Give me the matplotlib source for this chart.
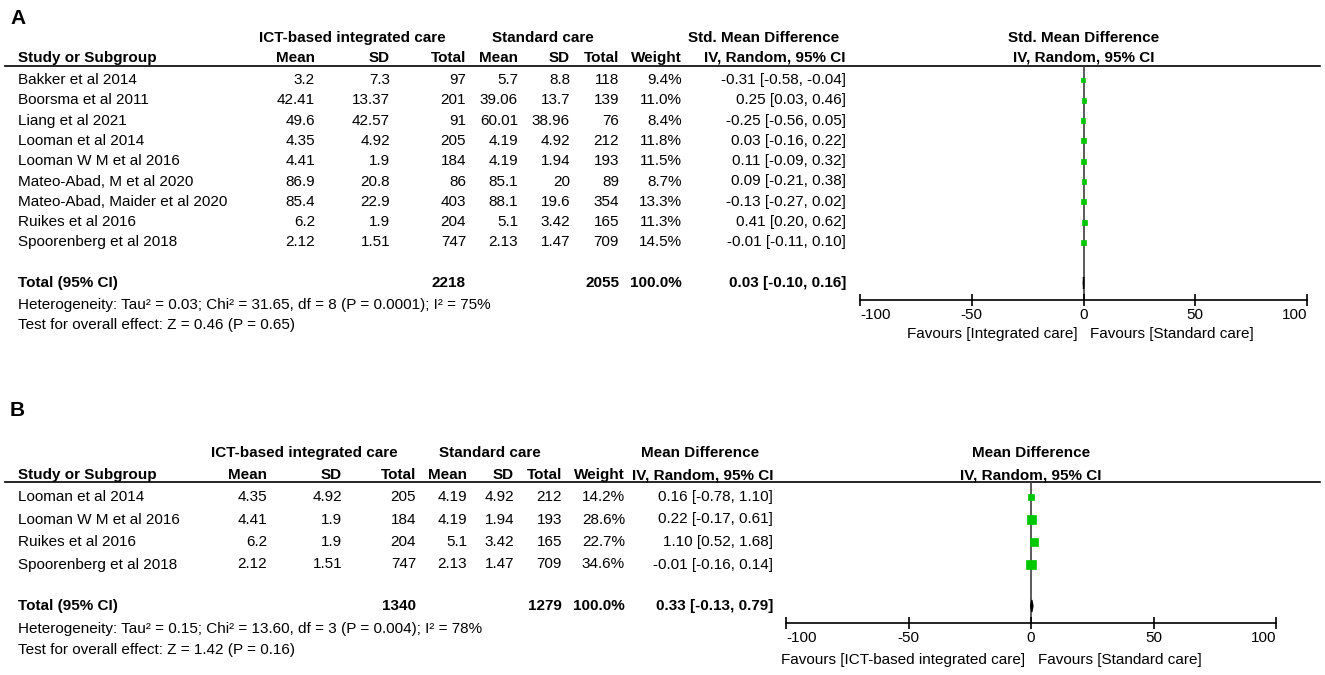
"""Forest plots (A: SMD, B: MD) for ICT-based integrated care vs standard care."""
import matplotlib.pyplot as plt
import numpy as np

plt.rcParams["font.family"] = ["Liberation Sans", "DejaVu Sans"]

W, H = 1325, 675
FS = 11
GREEN = "#00c800"

# ---- Panel A data ----
studies_a = [
    "Bakker et al 2014", "Boorsma et al 2011", "Liang et al 2021",
    "Looman et al 2014", "Looman W M et al 2016", "Mateo-Abad, M et al 2020",
    "Mateo-Abad, Maider et al 2020", "Ruikes et al 2016", "Spoorenberg et al 2018",
]
mean1_a = [3.2, 42.41, 49.6, 4.35, 4.41, 86.9, 85.4, 6.2, 2.12]
sd1_a = [7.3, 13.37, 42.57, 4.92, 1.9, 20.8, 22.9, 1.9, 1.51]
n1_a = [97, 201, 91, 205, 184, 86, 403, 204, 747]
mean2_a = [5.7, 39.06, 60.01, 4.19, 4.19, 85.1, 88.1, 5.1, 2.13]
sd2_a = [8.8, 13.7, 38.96, 4.92, 1.94, 20, 19.6, 3.42, 1.47]
n2_a = [118, 139, 76, 212, 193, 89, 354, 165, 709]
weight_a = [9.4, 11.0, 8.4, 11.8, 11.5, 8.7, 13.3, 11.3, 14.5]
est_a = [-0.31, 0.25, -0.25, 0.03, 0.11, 0.09, -0.13, 0.41, -0.01]
lo_a = [-0.58, 0.03, -0.56, -0.16, -0.09, -0.21, -0.27, 0.20, -0.11]
hi_a = [-0.04, 0.46, 0.05, 0.22, 0.32, 0.38, 0.02, 0.62, 0.10]
totals_a = [2218, 2055]
pooled_a = [0.03, -0.10, 0.16]
het_a = "Heterogeneity: Tau\u00b2 = 0.03; Chi\u00b2 = 31.65, df = 8 (P = 0.0001); I\u00b2 = 75%"
test_a = "Test for overall effect: Z = 0.46 (P = 0.65)"

# ---- Panel B data ----
studies_b = ["Looman et al 2014", "Looman W M et al 2016", "Ruikes et al 2016",
             "Spoorenberg et al 2018"]
mean1_b = [4.35, 4.41, 6.2, 2.12]
sd1_b = [4.92, 1.9, 1.9, 1.51]
n1_b = [205, 184, 204, 747]
mean2_b = [4.19, 4.19, 5.1, 2.13]
sd2_b = [4.92, 1.94, 3.42, 1.47]
n2_b = [212, 193, 165, 709]
weight_b = [14.2, 28.6, 22.7, 34.6]
est_b = [0.16, 0.22, 1.10, -0.01]
lo_b = [-0.78, -0.17, 0.52, -0.16]
hi_b = [1.10, 0.61, 1.68, 0.14]
totals_b = [1340, 1279]
pooled_b = [0.33, -0.13, 0.79]
het_b = "Heterogeneity: Tau\u00b2 = 0.15; Chi\u00b2 = 13.60, df = 3 (P = 0.004); I\u00b2 = 78%"
test_b = "Test for overall effect: Z = 1.42 (P = 0.16)"

ticks = [-100, -50, 0, 50, 100]

# layout in figure pixels (y from top)
LAY_A = dict(label="A", label_y=18, h1=38, h2=58, line=66, row0=80, step=20.3,
             total=283, het=305, test=325,
             cols=[315, 390, 466, 518, 570, 619, 682, 846],
             grp=[352, 543, 764], x0=860, x1=1307, axis=300, fav=334,
             effect="Std. Mean Difference", sq=1.45,
             fav_l="Favours [Integrated care]", fav_r="Favours [Standard care]")
LAY_B = dict(label="B", label_y=410, h1=453, h2=475, line=482, row0=497, step=22.5,
             total=606, het=629, test=650,
             cols=[267, 342, 416, 467, 514, 562, 625, 773],
             grp=[304, 490, 700], x0=786, x1=1276, axis=623, fav=660,
             effect="Mean Difference", sq=1.6,
             fav_l="Favours [ICT-based integrated care]", fav_r="Favours [Standard care]")


def g(v):
    return f"{v:g}"


def ci(e, lo, hi):
    return f"{e:.2f} [{lo:.2f}, {hi:.2f}]"


def draw_panel(fig, ov, L, studies, m1, s1, n1, m2, s2, n2, wt, est, lo, hi,
               totals, pooled, het, test):
    ov.text(10, L["label_y"], L["label"], fontsize=15, fontweight="bold", va="center")
    # group headers
    for x, t in zip(L["grp"], ["ICT-based integrated care", "Standard care", L["effect"]]):
        ov.text(x, L["h1"], t, ha="center", va="center", fontsize=FS, fontweight="bold")
    heads = ["Mean", "SD", "Total", "Mean", "SD", "Total", "Weight", "IV, Random, 95% CI"]
    ov.text(18, L["h2"], "Study or Subgroup", va="center", fontsize=FS, fontweight="bold")
    for x, t in zip(L["cols"], heads):
        ov.text(x, L["h2"], t, ha="right", va="center", fontsize=FS, fontweight="bold")
    xc = (L["x0"] + L["x1"]) / 2
    ov.text(xc, L["h1"], L["effect"], ha="center", va="center", fontsize=FS, fontweight="bold")
    ov.text(xc, L["h2"], "IV, Random, 95% CI", ha="center", va="center", fontsize=FS,
            fontweight="bold")
    ov.plot([5, 1320], [L["line"], L["line"]], color="black", lw=1.2)

    ys = L["row0"] + L["step"] * np.arange(len(studies))
    for i, y in enumerate(ys):
        ov.text(18, y, studies[i], va="center", fontsize=FS)
        vals = [g(m1[i]), g(s1[i]), str(n1[i]), g(m2[i]), g(s2[i]), str(n2[i]),
                f"{wt[i]:.1f}%", ci(est[i], lo[i], hi[i])]
        for x, t in zip(L["cols"], vals):
            ov.text(x, y, t, ha="right", va="center", fontsize=FS)

    ty = L["total"]
    ov.text(18, ty, "Total (95% CI)", va="center", fontsize=FS, fontweight="bold")
    for x, t in zip([L["cols"][2], L["cols"][5], L["cols"][6], L["cols"][7]],
                    [str(totals[0]), str(totals[1]), "100.0%", ci(*pooled)]):
        ov.text(x, ty, t, ha="right", va="center", fontsize=FS, fontweight="bold")
    ov.text(18, L["het"], het, va="center", fontsize=FS)
    ov.text(18, L["test"], test, va="center", fontsize=FS)

    # forest axis
    fa = fig.add_axes([L["x0"] / W, 1 - L["axis"] / H, (L["x1"] - L["x0"]) / W,
                       (L["axis"] - L["line"]) / H])
    fa.patch.set_alpha(0)
    fa.set_xlim(-100, 100)
    fa.set_ylim(L["axis"], L["line"])
    for s in ["top", "left", "right"]:
        fa.spines[s].set_visible(False)
    fa.spines["bottom"].set_linewidth(1.2)
    fa.set_yticks([])
    fa.set_xticks(ticks)
    fa.set_xticklabels([str(t) for t in ticks])
    fa.tick_params(axis="x", direction="inout", length=8, width=1.2, pad=2,
                   labelsize=FS)
    labs = fa.get_xticklabels()
    labs[0].set_ha("left")
    labs[-1].set_ha("right")
    fa.axvline(0, color="#404040", lw=1.2, zorder=1)
    fa.hlines(ys, lo, hi, color="black", lw=1, zorder=2)
    side = L["sq"] * np.sqrt(np.array(wt)) * 0.72
    fa.scatter(est, ys, s=side ** 2, marker="s", color=GREEN, edgecolors=GREEN,
               linewidths=0.5, zorder=3)
    e, l, h = pooled
    fa.fill([l, e, h, e], [ty, ty - 6, ty, ty + 6], color="black", zorder=3)

    ov.text(xc - 6, L["fav"], L["fav_l"], ha="right", va="center", fontsize=FS)
    ov.text(xc + 7, L["fav"], L["fav_r"], ha="left", va="center", fontsize=FS)


fig = plt.figure(figsize=(W / 100, H / 100), dpi=100)
ov = fig.add_axes([0, 0, 1, 1])
ov.set_xlim(0, W)
ov.set_ylim(H, 0)
ov.axis("off")

draw_panel(fig, ov, LAY_A, studies_a, mean1_a, sd1_a, n1_a, mean2_a, sd2_a, n2_a,
           weight_a, est_a, lo_a, hi_a, totals_a, pooled_a, het_a, test_a)
draw_panel(fig, ov, LAY_B, studies_b, mean1_b, sd1_b, n1_b, mean2_b, sd2_b, n2_b,
           weight_b, est_b, lo_b, hi_b, totals_b, pooled_b, het_b, test_b)

fig.savefig("out.png", dpi=100)
